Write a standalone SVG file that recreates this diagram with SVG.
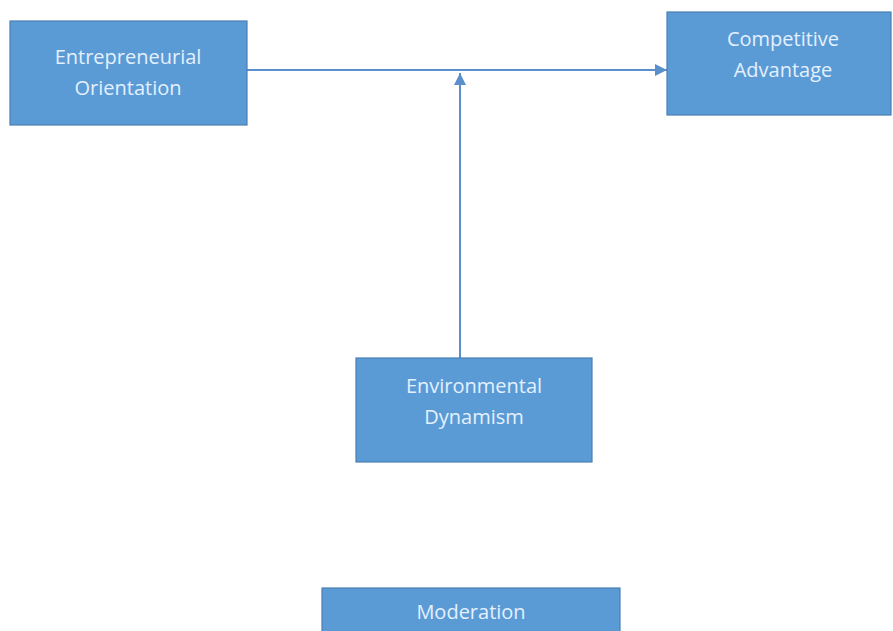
<svg xmlns="http://www.w3.org/2000/svg" width="893" height="631" viewBox="0 0 893 631">
  <defs>
    <marker id="arrow" viewBox="0 0 10 10" refX="10" refY="5" markerWidth="12" markerHeight="12" markerUnits="userSpaceOnUse" orient="auto">
      <path d="M0,0 L10,5 L0,10 z" fill="#5B8FCB"/>
    </marker>
    <style>
      .box { fill: #5B9BD5; stroke: #4A7FB5; stroke-width: 1.2; }
      .label { font-family: "Open Sans", "Liberation Sans", sans-serif; font-size: 20px; fill: #E3F0FF; text-anchor: middle; }
      .link { stroke: #5B8FCB; stroke-width: 2; fill: none; marker-end: url(#arrow); }
    </style>
  </defs>
  <rect width="893" height="631" fill="#FFFFFF"/>

  <g id="connectors">
    <line class="link" x1="247" y1="70" x2="667" y2="70"/>
    <line class="link" x1="460" y1="358" x2="460" y2="73"/>
  </g>

  <g id="entrepreneurial-orientation">
    <rect class="box" x="10" y="21" width="237" height="104"/>
    <text class="label" x="128" y="64">Entrepreneurial</text>
    <text class="label" x="128" y="95">Orientation</text>
  </g>

  <g id="competitive-advantage">
    <rect class="box" x="667" y="12" width="224" height="103"/>
    <text class="label" x="783" y="46">Competitive</text>
    <text class="label" x="783" y="77">Advantage</text>
  </g>

  <g id="environmental-dynamism">
    <rect class="box" x="356" y="358" width="236" height="104"/>
    <text class="label" x="474" y="393">Environmental</text>
    <text class="label" x="474" y="424">Dynamism</text>
  </g>

  <g id="moderation">
    <rect class="box" x="322" y="588" width="298" height="60"/>
    <text class="label" x="471" y="619">Moderation</text>
  </g>
</svg>
